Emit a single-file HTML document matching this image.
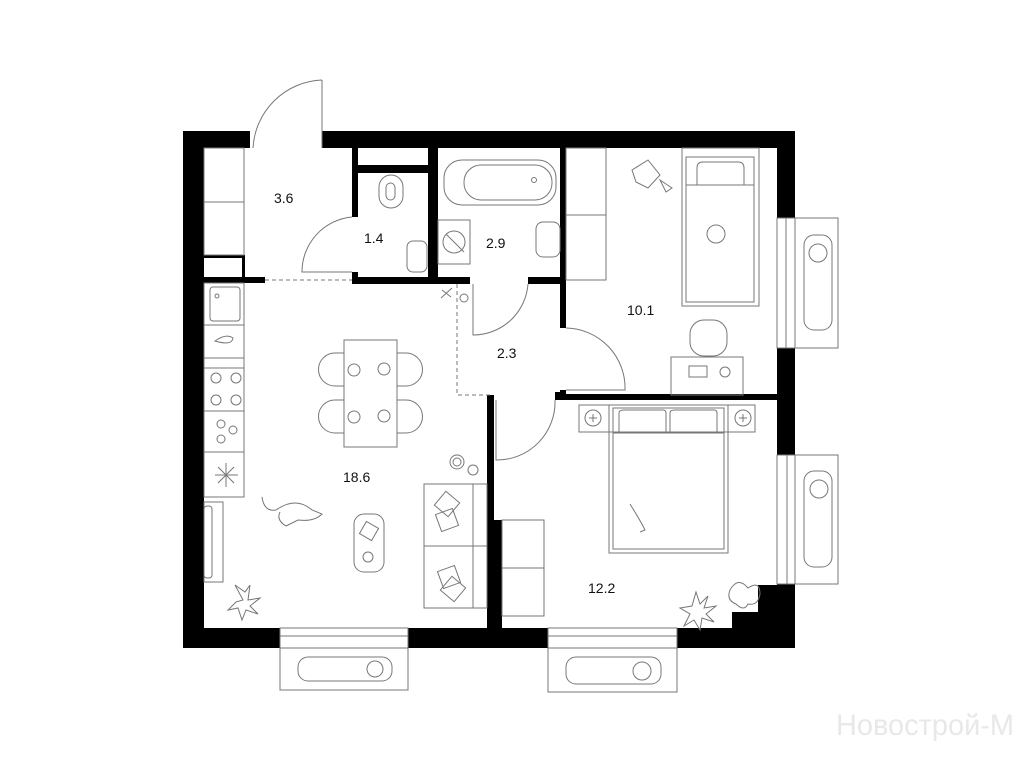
<!DOCTYPE html>
<html><head><meta charset="utf-8"><style>
html,body{margin:0;padding:0;background:#fff;width:1024px;height:768px;overflow:hidden}
svg{display:block}
text{font-family:"Liberation Sans",sans-serif;font-size:14px;fill:#111}
</style></head><body>
<svg width="1024" height="768" viewBox="0 0 1024 768">
<g fill="#000">
<rect x="183" y="131" width="67" height="17"/>
<rect x="322" y="131" width="473" height="17"/>
<rect x="183" y="131" width="21" height="517"/>
<rect x="777" y="131" width="18" height="87"/>
<rect x="777" y="348" width="18" height="107"/>
<rect x="777" y="584" width="18" height="64"/>
<rect x="732" y="612" width="63" height="36"/>
<rect x="758" y="585" width="37" height="40"/>
<rect x="183" y="628" width="97" height="20"/>
<rect x="408" y="628" width="140" height="20"/>
<rect x="677" y="628" width="118" height="20"/>
<rect x="352" y="148" width="6" height="69"/>
<rect x="352" y="272" width="6" height="12"/>
<rect x="352" y="277" width="118" height="7"/>
<rect x="358" y="165" width="70" height="8"/>
<rect x="428" y="148" width="10" height="136"/>
<rect x="528" y="277" width="38" height="7"/>
<rect x="560" y="148" width="6" height="180"/>
<rect x="183" y="277" width="82" height="6"/>
<rect x="242" y="255" width="3" height="24"/>
<rect x="204" y="255" width="41" height="3"/>
<rect x="560" y="390" width="6" height="10"/>
<rect x="560" y="394" width="217" height="6"/>
<rect x="487" y="395" width="7" height="125"/>
<rect x="487" y="520" width="15" height="110"/>
<rect x="555" y="392" width="6" height="8"/>
</g>
<g fill="none" stroke="#777" stroke-width="1">
<path d="M322 80 L322 148 M322 80 A72 72 0 0 0 253 148"/>
<rect x="204" y="148" width="40" height="107"/>
<line x1="204" y1="202" x2="244" y2="202"/>
<path d="M352 217 A55 55 0 0 0 302 272 L352 272"/>
<rect x="379" y="175" width="24" height="33" rx="12"/>
<rect x="386" y="183" width="9" height="17" rx="4.5"/>
<rect x="407" y="241" width="20" height="31" rx="6"/>
<rect x="444" y="160" width="112" height="45" rx="18"/>
<rect x="464" y="165" width="88" height="35" rx="17"/>
<circle cx="534" cy="180" r="2.5"/>
<rect x="438" y="220" width="32" height="44"/>
<circle cx="454" cy="242" r="11"/>
<line x1="446" y1="234" x2="464" y2="252"/>
<rect x="536" y="222" width="24" height="35" rx="7"/>
<path d="M265 280 L352 280 M457 284 L457 395 L490 395" stroke-dasharray="4 3"/>
<path d="M473 284 L473 335 A55 55 0 0 0 528 284"/>
<path d="M566 328 A60 60 0 0 1 625 390 L566 390"/>
<path d="M555 400 A58 58 0 0 1 496 460 L496 400"/>
<rect x="204" y="283" width="40" height="214"/>
<line x1="204" y1="325" x2="244" y2="325"/><line x1="204" y1="358" x2="244" y2="358"/>
<line x1="204" y1="368" x2="244" y2="368"/><line x1="204" y1="411" x2="244" y2="411"/>
<line x1="204" y1="452" x2="244" y2="452"/>
<rect x="210" y="287" width="30" height="34" rx="3"/>
<circle cx="217" cy="296" r="2"/>
<path d="M215 341 Q226 333 233 338 Q232 346 215 341Z"/>
<circle cx="216" cy="378" r="5"/><circle cx="236" cy="378" r="5"/><circle cx="216" cy="400" r="5"/><circle cx="236" cy="400" r="5"/>
<circle cx="221" cy="424" r="4"/><circle cx="233" cy="430" r="4"/><circle cx="221" cy="439" r="4"/>
<path d="M215 475 H238 M226 463 V487 M218 467 L234 483 M234 467 L218 483"/>
<rect x="204" y="502" width="19" height="80"/>
<rect x="204" y="506" width="8" height="72" rx="3"/>
<rect x="344" y="340" width="53" height="107"/>
<path d="M344 353 H335 A14 14 0 0 0 335 386 H344 M344 400 H335 A14 14 0 0 0 335 433 H344 M397 353 H406 A14 14 0 0 1 406 386 H397 M397 400 H406 A14 14 0 0 1 406 433 H397"/>
<circle cx="354" cy="370" r="6"/><circle cx="384" cy="369" r="6"/><circle cx="354" cy="417" r="6"/><circle cx="384" cy="416" r="6"/>
<rect x="424" y="484" width="63" height="124"/>
<line x1="424" y1="546" x2="487" y2="546"/><line x1="473" y1="484" x2="473" y2="608"/>
<rect x="438" y="495" width="18" height="18" transform="rotate(40 447 504)"/>
<rect x="438" y="511" width="18" height="18" transform="rotate(-20 447 520)"/>
<rect x="440" y="568" width="18" height="18" transform="rotate(-20 449 577)"/>
<rect x="444" y="580" width="18" height="18" transform="rotate(40 453 589)"/>
<rect x="354" y="514" width="30" height="58" rx="10"/>
<rect x="362" y="524" width="14" height="14" transform="rotate(30 369 531)"/>
<circle cx="368" cy="557" r="5"/>
<circle cx="457" cy="462" r="7"/><circle cx="457" cy="462" r="4"/><circle cx="473" cy="470" r="5"/>
<circle cx="464" cy="298" r="4"/>
<path d="M441 298 L452 288 M442 290 L451 297"/>
<path d="M262 497 Q264 512 276 510 Q296 496 312 510 L322 514 Q314 522 298 520 L286 526 Q276 520 280 512"/>
<path d="M243 600 L235 585 L245 592 L250 585 L248 600 L260 598 L250 606 L258 614 L246 610 L242 620 L238 608 L228 610 L236 602Z"/>
<rect x="280" y="628" width="128" height="20"/><line x1="280" y1="636" x2="408" y2="636"/>
<rect x="280" y="648" width="128" height="42"/>
<rect x="298" y="657" width="94" height="24" rx="10"/>
<circle cx="375" cy="669" r="8"/>
<rect x="548" y="628" width="129" height="20"/><line x1="548" y1="636" x2="677" y2="636"/>
<rect x="548" y="648" width="129" height="44"/>
<rect x="566" y="657" width="95" height="27" rx="10"/>
<circle cx="642" cy="671" r="9"/>
<rect x="777" y="218" width="18" height="130"/><line x1="786" y1="218" x2="786" y2="348"/>
<rect x="795" y="218" width="43" height="130"/>
<rect x="804" y="235" width="28" height="95" rx="10"/>
<circle cx="818" cy="253" r="9"/>
<rect x="777" y="455" width="18" height="129"/><line x1="787" y1="455" x2="787" y2="584"/>
<rect x="795" y="455" width="43" height="129"/>
<rect x="804" y="471" width="28" height="96" rx="10"/>
<circle cx="819" cy="489" r="9"/>
<rect x="566" y="148" width="40" height="132"/><line x1="566" y1="215" x2="606" y2="215"/>
<rect x="682" y="148" width="77" height="158"/>
<rect x="686" y="157" width="68" height="145"/>
<path d="M697 185 V168 Q697 162 703 162 H738 Q744 162 744 168 V185 M686 185 H754"/>
<circle cx="716" cy="234" r="9"/>
<rect x="690" y="320" width="37" height="36" rx="14"/>
<rect x="671" y="357" width="72" height="38"/>
<rect x="689" y="366" width="18" height="11"/>
<circle cx="725" cy="372" r="5"/>
<path d="M632 170 L648 160 L660 175 L648 188 L636 182Z M660 180 L672 188 L666 192Z"/>
<rect x="579" y="405" width="176" height="27"/>
<rect x="609" y="405" width="119" height="148"/>
<rect x="613" y="408" width="111" height="141"/>
<path d="M619 433 V413 Q619 410 624 410 H663 Q666 410 666 413 V433 M670 433 V413 Q670 410 675 410 H714 Q717 410 717 413 V433 M613 433 H724"/>
<circle cx="593" cy="418" r="8"/><circle cx="743" cy="418" r="8"/>
<path d="M593 414 V422 M589 418 H597 M743 414 V422 M739 418 H747"/>
<rect x="502" y="520" width="42" height="96"/><line x1="502" y1="568" x2="544" y2="568"/>
<path d="M630 504 Q640 520 645 530 L640 532"/>
<path d="M696 592 L700 604 L708 596 L704 608 L716 606 L706 614 L714 622 L702 618 L700 630 L694 620 L684 626 L690 614 L680 608 L692 606Z"/>
<path d="M730 590 Q738 576 748 588 Q760 580 760 594 Q758 606 748 604 Q744 612 736 604 Q726 600 730 590Z"/>
</g>
<text x="274" y="203">3.6</text>
<text x="364" y="243">1.4</text>
<text x="486" y="248">2.9</text>
<text x="627" y="315">10.1</text>
<text x="497" y="358">2.3</text>
<text x="343" y="482">18.6</text>
<text x="588" y="593">12.2</text>
<text x="836" y="735" style="font-size:30px;fill:#e8e8e8" textLength="178" lengthAdjust="spacingAndGlyphs">Новострой-М</text>
</svg>
</body></html>
